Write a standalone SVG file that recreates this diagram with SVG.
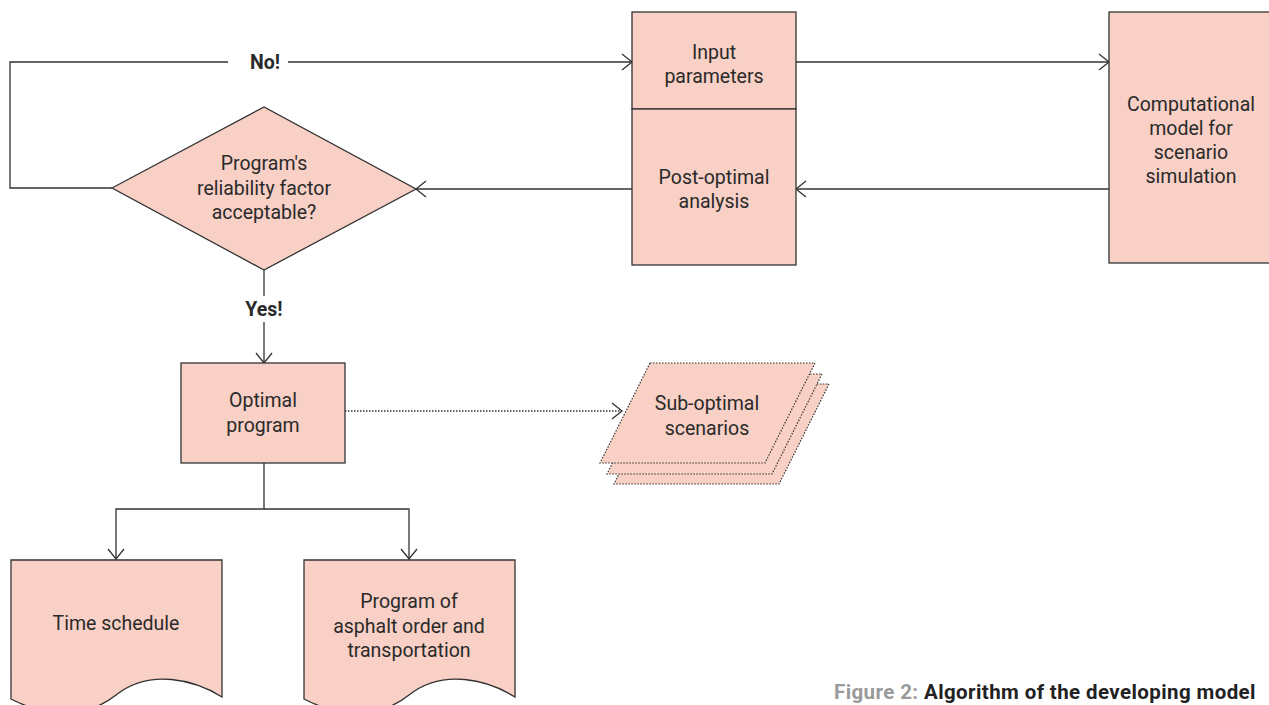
<svg xmlns="http://www.w3.org/2000/svg" width="1269" height="705" viewBox="0 0 1269 705">
<style>
.n{fill:#f8d0c5;stroke:#333;stroke-width:1.3}
.d{fill:#f8d0c5;stroke:#333;stroke-width:1.2;stroke-dasharray:1.5 1.5}
.t{font-family:Roboto,"Liberation Sans",sans-serif;font-size:19.5px;fill:#2a2a2a;text-anchor:middle}
.b{font-weight:bold}
.c{fill:none;stroke:#333;stroke-width:1.3}
</style>
<defs>
<marker id="ah" viewBox="-11 -9 13 18" markerWidth="13" markerHeight="18" refX="0" refY="0" orient="auto" markerUnits="userSpaceOnUse">
<path d="M-10,-8 L0,0 L-10,8" fill="none" stroke="#333" stroke-width="1.3"/>
</marker>
</defs>
<rect width="1269" height="705" fill="#fff"/>
<g id="connectors">
<polyline class="c" points="112,188 10,188 10,62 228,62"/>
<line class="c" x1="288" y1="62" x2="632" y2="62" marker-end="url(#ah)"/>
<line class="c" x1="796" y1="62" x2="1109" y2="62" marker-end="url(#ah)"/>
<line class="c" x1="1109" y1="189" x2="796" y2="189" marker-end="url(#ah)"/>
<line class="c" x1="632" y1="189" x2="416" y2="189" marker-end="url(#ah)"/>
<line class="c" x1="264" y1="270" x2="264" y2="296"/>
<line class="c" x1="264" y1="322" x2="264" y2="363" marker-end="url(#ah)"/>
<line class="c" x1="345" y1="411" x2="622" y2="411" stroke-dasharray="1.5 1.5" stroke-width="1.1"/>
<path class="c" d="M612,403 L622,411 L612,419"/>
<polyline class="c" points="264,463 264,509 116,509 116,559" marker-end="url(#ah)"/>
<polyline class="c" points="264,509 409,509 409,559" marker-end="url(#ah)"/>
<text class="t b" x="265" y="69">No!</text>
<text class="t b" x="264" y="316">Yes!</text>
</g>
<g id="decision">
<polygon class="n" points="112,188 264,107 416,189 264,270"/>
<text class="t" x="264" y="170">Program's</text>
<text class="t" x="264" y="195">reliability factor</text>
<text class="t" x="264" y="219">acceptable?</text>
</g>
<g id="input">
<rect class="n" x="632" y="12" width="164" height="97"/>
<text class="t" x="714" y="59">Input</text>
<text class="t" x="714" y="83">parameters</text>
</g>
<g id="postopt">
<rect class="n" x="632" y="109" width="164" height="156"/>
<text class="t" x="714" y="184">Post-optimal</text>
<text class="t" x="714" y="208">analysis</text>
</g>
<g id="model">
<rect class="n" x="1109" y="12" width="166" height="251"/>
<text class="t" x="1191" y="111">Computational</text>
<text class="t" x="1191" y="135">model for</text>
<text class="t" x="1191" y="159">scenario</text>
<text class="t" x="1191" y="183">simulation</text>
</g>
<g id="optimal">
<rect class="n" x="181" y="363" width="164" height="100"/>
<text class="t" x="263" y="407">Optimal</text>
<text class="t" x="263" y="432">program</text>
</g>
<g id="suboptimal">
<polygon class="d" points="664,384 829,384 779,484 614,484"/>
<polygon class="d" points="657,374 822,374 772,474 607,474"/>
<polygon class="d" points="650,363 815,363 765,463 600,463"/>
<text class="t" x="707" y="410">Sub-optimal</text>
<text class="t" x="707" y="435">scenarios</text>
</g>
<g id="schedule">
<path class="n" d="M11,560 H222 V697 C195,680 150,668 116,695 C82,722 40,714 11,699 Z"/>
<text class="t" x="116" y="630">Time schedule</text>
</g>
<g id="asphalt">
<path class="n" d="M304,560 H515 V697 C488,680 443,668 409,695 C375,722 333,714 304,699 Z"/>
<text class="t" x="409" y="608">Program of</text>
<text class="t" x="409" y="633">asphalt order and</text>
<text class="t" x="409" y="657">transportation</text>
</g>
<text x="834" y="699" font-family="Roboto,'Liberation Sans',sans-serif" font-size="20.5" font-weight="bold" letter-spacing="0.4" fill="#9a9a9a">Figure 2: <tspan fill="#222">Algorithm of the developing model</tspan></text>
</svg>
